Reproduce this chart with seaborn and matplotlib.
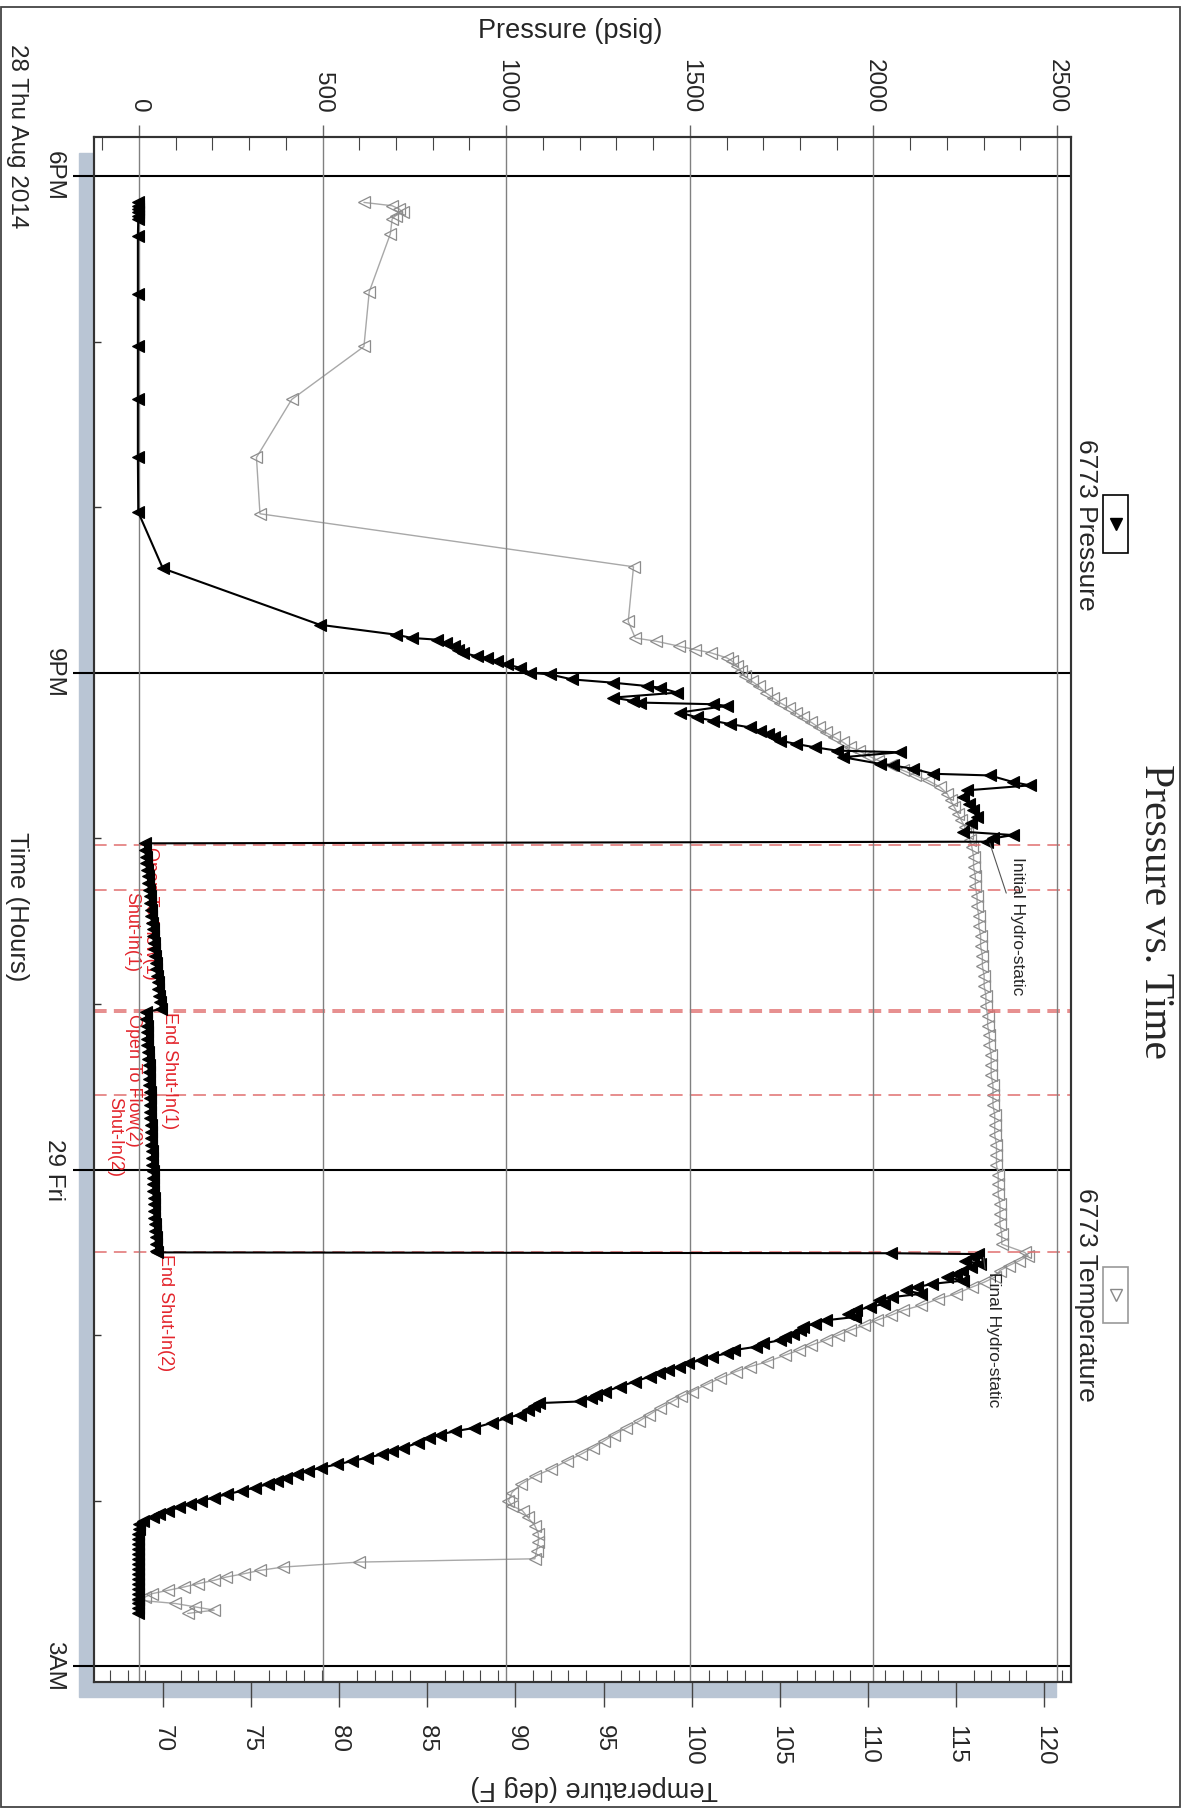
import matplotlib
matplotlib.use("Agg")
import matplotlib.pyplot as plt
from matplotlib.patches import Rectangle
from matplotlib.lines import Line2D
from matplotlib.ticker import MultipleLocator
import seaborn as sns

W, H = 1199, 1812

# ---- data, time in hours after 6PM Thu 28 Aug 2014 ----
# 6773 Pressure (psig)
p_hours_runin = [0.16, 0.18, 0.20, 0.22, 0.24, 0.26, 0.36, 0.71, 1.03, 1.35, 1.70, 2.03,
                 2.37, 2.71, 2.77, 2.79, 2.80, 2.82, 2.84, 2.86, 2.88, 2.90, 2.91, 2.93,
                 2.95, 2.97, 3.00, 3.01, 3.04, 3.06, 3.08, 3.09, 3.12, 3.15, 3.17, 3.18,
                 3.19, 3.20, 3.24, 3.27, 3.29, 3.31, 3.33, 3.35, 3.37, 3.39, 3.41, 3.43,
                 3.45, 3.47, 3.48, 3.51, 3.55, 3.56, 3.58, 3.61, 3.62, 3.66, 3.68, 3.71,
                 3.75, 3.79, 3.83, 3.87, 3.91, 3.96, 3.98, 4.00, 4.02]
p_psig_runin = [-3, -2, -3, -2, -3, -2, -3, -3, -3, -3, -3, -2,
                65, 492, 700, 743, 811, 835, 858, 870, 882, 920, 948, 975,
                1002, 1038, 1065, 1119, 1179, 1291, 1383, 1419, 1465, 1291, 1345, 1364,
                1563, 1601, 1473, 1520, 1563, 1610, 1664, 1690, 1712, 1730, 1746, 1790,
                1840, 1900, 2072, 1917, 2018, 2053, 2108, 2162, 2317, 2380, 2426, 2255,
                2245, 2260, 2271, 2282, 2265, 2245, 2380, 2326, 2310]

p_hours_flow1 = [4.03, 4.07, 4.11, 4.15, 4.19, 4.23, 4.27, 4.31, 4.35, 4.39, 4.43, 4.47, 4.51,
                 4.55, 4.59, 4.63, 4.67, 4.71, 4.75, 4.79, 4.83, 4.87, 4.91, 4.95, 4.99, 5.03]
p_psig_flow1 = [16, 17, 19, 20, 22, 24, 25, 27, 29, 30, 32, 34, 35,
                37, 39, 40, 42, 44, 45, 47, 49, 51, 53, 55, 57, 60]

p_hours_flow2 = [5.05, 5.09, 5.13, 5.17, 5.21, 5.25, 5.29, 5.33, 5.37, 5.41, 5.45, 5.49, 5.53,
                 5.57, 5.61, 5.65, 5.69, 5.73, 5.77, 5.81, 5.85, 5.89, 5.93, 5.97, 6.01, 6.05,
                 6.09, 6.13, 6.17, 6.21, 6.25, 6.29, 6.33, 6.37, 6.41, 6.45, 6.49]
p_psig_flow2 = [19, 20, 21, 22, 22, 23, 24, 25, 26, 26, 27, 28, 29,
                29, 30, 31, 31, 32, 33, 34, 34, 35, 36, 36, 37, 38,
                39, 39, 40, 41, 42, 42, 43, 44, 45, 46, 47]

p_hours_pullout = [6.50, 6.505, 6.51, 6.53, 6.55, 6.57, 6.59, 6.61, 6.63, 6.65,
                   6.67, 6.69, 6.71, 6.73, 6.75, 6.77, 6.79, 6.81, 6.83, 6.85,
                   6.87, 6.89, 6.91, 6.93, 6.95, 6.97, 6.99, 7.01, 7.03, 7.05,
                   7.07, 7.09, 7.11, 7.13, 7.15, 7.17, 7.19, 7.21, 7.23, 7.25,
                   7.28, 7.31, 7.34, 7.36, 7.38, 7.40, 7.41, 7.43, 7.45, 7.48,
                   7.50, 7.53, 7.56, 7.58, 7.60, 7.62, 7.65, 7.68, 7.70, 7.72,
                   7.74, 7.76, 7.78, 7.80, 7.82, 7.84, 7.86, 7.88, 7.90, 7.92,
                   7.94, 7.96, 7.98, 8.00, 8.02, 8.04, 8.06, 8.08, 8.10, 8.12, 8.14]
p_psig_pullout = [48, 2048, 2285, 2270, 2250, 2290, 2266, 2240, 2225, 2200,
                  2245, 2160, 2119, 2090, 2130, 2050, 2015, 2030, 1990, 1953,
                  1930, 1950, 1870, 1840, 1808, 1800, 1780, 1760, 1746, 1700,
                  1680, 1620, 1600, 1560, 1530, 1495, 1470, 1440, 1415, 1391,
                  1350, 1310, 1270, 1245, 1230, 1200, 1090, 1075, 1060, 1037,
                  1000, 960, 912, 860, 819, 790, 760, 720, 690, 662,
                  620, 580, 540, 496, 460, 430, 400, 375, 351, 315,
                  280, 240, 204, 170, 140, 110, 79, 55, 38, 10, 0]

p_hours_surface = [8.17, 8.20, 8.23, 8.26, 8.29, 8.32, 8.35, 8.38, 8.41,
                   8.44, 8.47, 8.50, 8.53, 8.56, 8.59, 8.62, 8.65, 8.68]
p_psig_surface = [-1, -2, -2, -3, -2, -3, -2, -3, -3,
                  -2, -3, -3, -2, -3, -3, -2, -3, -3]

# 6773 Temperature (deg F)
t_hours_runin = [0.16, 0.18, 0.20, 0.22, 0.24, 0.26, 0.35, 0.70, 1.03, 1.35, 1.70, 2.04, 2.36, 2.69]
t_degf_runin = [81.4, 83.0, 83.4, 83.6, 83.2, 83.0, 82.9, 81.7, 81.4, 77.3, 75.3, 75.5, 96.7, 96.4]

t_hours_descent = [2.79, 2.81, 2.84, 2.86, 2.88, 2.91, 2.93, 2.96, 2.99, 3.02,
                   3.05, 3.08, 3.12, 3.15, 3.18, 3.21, 3.24, 3.27, 3.30, 3.33,
                   3.36, 3.39, 3.42, 3.45, 3.47, 3.50, 3.53, 3.56, 3.59, 3.62,
                   3.65, 3.69, 3.73, 3.77, 3.81, 3.85, 3.89, 3.93, 3.97, 4.01]
t_degf_descent = [96.8, 98.0, 99.3, 100.2, 101.1, 102.0, 102.3, 102.6, 102.8, 103.0,
                  103.4, 103.8, 104.2, 104.6, 105.0, 105.5, 105.9, 106.3, 106.8, 107.2,
                  107.6, 108.1, 108.6, 109.0, 109.5, 110.0, 110.6, 111.3, 112.0, 112.7,
                  113.4, 114.1, 114.5, 114.7, 114.9, 115.1, 115.3, 115.5, 115.6, 115.8]

t_hours_bottom = [4.05, 4.11, 4.17, 4.23, 4.29, 4.35, 4.41, 4.47, 4.53, 4.59,
                  4.65, 4.71, 4.77, 4.83, 4.89, 4.95, 5.01, 5.07, 5.13, 5.19,
                  5.25, 5.31, 5.37, 5.43, 5.49, 5.55, 5.61, 5.67, 5.73, 5.79,
                  5.85, 5.91, 5.97, 6.03, 6.09, 6.15, 6.21, 6.27, 6.33, 6.39, 6.45]
t_degf_bottom = [115.9, 116.0, 116.0, 116.1, 116.1, 116.2, 116.2, 116.3, 116.3, 116.4,
                 116.4, 116.5, 116.5, 116.6, 116.6, 116.7, 116.7, 116.8, 116.8, 116.9,
                 116.9, 117.0, 117.0, 117.0, 117.1, 117.1, 117.1, 117.2, 117.2, 117.2,
                 117.3, 117.3, 117.3, 117.4, 117.4, 117.4, 117.5, 117.5, 117.5, 117.6, 117.6]

t_hours_pullout = [6.50, 6.52, 6.55, 6.58, 6.61, 6.65, 6.68, 6.71, 6.75, 6.78,
                   6.82, 6.85, 6.88, 6.91, 6.94, 6.97, 7.00, 7.03, 7.06, 7.09,
                   7.12, 7.16, 7.19, 7.22, 7.26, 7.30, 7.34, 7.37, 7.40, 7.44,
                   7.48, 7.52, 7.56, 7.60, 7.64, 7.68, 7.72, 7.76, 7.81, 7.85,
                   7.90, 7.95, 8.00, 8.03, 8.06, 8.10, 8.15, 8.20, 8.25, 8.30,
                   8.35, 8.37, 8.40, 8.42, 8.44, 8.46, 8.48, 8.50, 8.52, 8.54,
                   8.56, 8.58, 8.60, 8.62, 8.64, 8.66, 8.68]
t_degf_pullout = [118.9, 119.1, 118.6, 118.0, 117.5, 117.2, 116.6, 115.9, 115.0, 114.0,
                  113.0, 112.0, 111.3, 110.5, 109.8, 109.0, 108.3, 107.6, 106.8, 106.1,
                  105.3, 104.3, 103.3, 102.5, 101.6, 100.8, 100.0, 99.4, 98.9, 98.2,
                  97.6, 97.0, 96.3, 95.6, 95.0, 94.4, 93.7, 92.9, 92.0, 91.1,
                  90.3, 89.8, 89.6, 89.8, 90.4, 90.7, 91.1, 91.3, 91.3, 91.2,
                  91.1, 81.1, 76.8, 75.5, 74.6, 73.6, 72.9, 72.0, 71.2, 70.3,
                  69.4, 69.0, 68.6, 70.7, 71.8, 72.9, 71.4]

# test events
event_hours = [4.04, 4.31, 5.035, 5.05, 5.55, 6.50]
event_labels = ["Open To Flow(1)", "Shut-In(1)", "End Shut-In(1)",
                "Open To Flow(2)", "Shut-In(2)", "End Shut-In(2)"]
event_label_psig = [30, -19, 84, -16, -66, 71]

time_ticks = [0, 3, 6, 9]
time_labels = ["6PM", "9PM", "29 Fri", "3AM"]

press_hours = p_hours_runin + p_hours_flow1 + p_hours_flow2 + p_hours_pullout + p_hours_surface
press_psig = p_psig_runin + p_psig_flow1 + p_psig_flow2 + p_psig_pullout + p_psig_surface
temp_hours = t_hours_runin + t_hours_descent + t_hours_bottom + t_hours_pullout
temp_degf = t_degf_runin + t_degf_descent + t_degf_bottom + t_degf_pullout

sns.set_theme(style="ticks")
plt.rcParams["font.family"] = ["Liberation Sans", "DejaVu Sans"]


def fx(px):
    return px / W


def fy(py):
    return 1 - py / H


fig = plt.figure(figsize=(W / 100, H / 100), dpi=100, facecolor="white")
ax = fig.add_axes([fx(94), fy(1682), (1071 - 94) / W, (1682 - 137) / H])
ax.set_facecolor("white")
ax2 = ax.twiny()

# blue-grey drop shadow and outer frame
fig.add_artist(Rectangle((fx(79), fy(1697)), (1056 - 79) / W, (1697 - 153) / H,
                         transform=fig.transFigure, color="#b9c5d4", zorder=-1))
fig.add_artist(Rectangle((fx(1), fy(1807)), 1179 / W, 1800 / H, transform=fig.transFigure,
                         fill=False, ec="#444444", lw=1.3, zorder=5))

# temperature (bottom axis)
sns.lineplot(x=temp_degf, y=temp_hours, ax=ax, sort=False, estimator=None,
             color="#a8a8a8", lw=1, marker="<", ms=9, mfc="none", mec="#8c8c8c", mew=0.9)

# pressure (top axis)
sns.lineplot(x=press_psig, y=press_hours, ax=ax2, sort=False, estimator=None,
             color="black", lw=1.5, marker="<", ms=9, mfc="black", mec="black", mew=0.8)

ax.set_xlim(66.08, 121.53)
ax2.set_xlim(-122.5, 2538)
ax.set_ylim(9.094, -0.235)
ax.set_xlabel("")
ax.set_ylabel("")
ax2.set_xlabel("")

# time axis
ax.set_yticks(time_ticks)
ax.set_yticklabels(time_labels, rotation=-90, va="center", fontsize=17.5)
ax.yaxis.set_minor_locator(MultipleLocator(1))
ax.tick_params(axis="y", which="major", left=True, direction="out", length=15,
               width=1.5, color="black", pad=6)
ax.tick_params(axis="y", which="minor", left=True, direction="in", length=5,
               width=1, color="#333333")
ax.yaxis.grid(True, which="major", color="black", lw=1.5)

# temperature axis ticks
ax.xaxis.set_major_locator(MultipleLocator(5))
ax.xaxis.set_minor_locator(MultipleLocator(1))
ax.tick_params(axis="x", which="major", bottom=True, direction="out", length=18, width=1,
               color="#444444", labelsize=17.5, labelrotation=-90, pad=13)
ax.tick_params(axis="x", which="minor", bottom=True, direction="in", length=8.5,
               width=0.8, color="#444444")

# pressure axis ticks
ax2.xaxis.set_major_locator(MultipleLocator(500))
ax2.xaxis.set_minor_locator(MultipleLocator(100))
ax2.tick_params(axis="x", which="major", top=True, bottom=False, labeltop=True,
                labelbottom=False, direction="out", length=8.6, width=1, color="#666666",
                labelsize=17.5, labelrotation=-90, pad=8.6)
ax2.tick_params(axis="x", which="minor", top=True, bottom=False, direction="in",
                length=9, width=0.8, color="#444444")
ax2.xaxis.grid(True, which="major", color="#808080", lw=1)
ax2.set_axisbelow(True)

for a in (ax, ax2):
    for sp in a.spines.values():
        sp.set_color("#333333")
        sp.set_linewidth(1.5)

# event markers
for t in event_hours:
    ax.axhline(t, color="#e07070", lw=1.3, dashes=(7, 4), alpha=0.85)
for t, lab, p in zip(event_hours, event_labels, event_label_psig):
    ax.text(p, t + 0.012, lab, transform=ax2.transData, rotation=-90, rotation_mode="anchor",
            ha="left", va="center", color="#e3242b", fontsize=13)

ax2.annotate("Initial Hydro-static", xy=(2317, 4.03), xytext=(2391, 4.11),
             rotation=-90, rotation_mode="anchor", ha="left", va="center", fontsize=12.5,
             arrowprops=dict(arrowstyle="-", color="#555555", lw=0.8, shrinkA=0, shrinkB=0))
ax2.annotate("Final Hydro-static", xy=(2300, 6.53), xytext=(2328, 6.62),
             rotation=-90, rotation_mode="anchor", ha="left", va="center", fontsize=12.5,
             arrowprops=dict(arrowstyle="-", color="#555555", lw=0.8, shrinkA=0, shrinkB=0))

# titles and axis labels
fig.text(fx(570), fy(31), "Pressure (psig)", ha="center", va="center", fontsize=19.5)
fig.text(fx(594), fy(1788), "Temperature (deg F)", rotation=180, ha="center", va="center",
         fontsize=19.5)
fig.text(fx(17), fy(907), "Time (Hours)", rotation=-90, ha="center", va="center", fontsize=18.5)
fig.text(fx(17), fy(136), "28 Thu Aug 2014", rotation=-90, ha="center", va="center",
         fontsize=17.5)
fig.text(fx(1155), fy(912), "Pressure vs. Time", rotation=-90, ha="center", va="center",
         fontsize=30, family=["Liberation Serif", "DejaVu Serif"])

# legend
fig.text(fx(1086), fy(525), "6773 Pressure", rotation=-90, ha="center", va="center", fontsize=19)
fig.text(fx(1086), fy(1295), "6773 Temperature", rotation=-90, ha="center", va="center",
         fontsize=19)
fig.add_artist(Rectangle((fx(1103), fy(553)), 25 / W, 58 / H, transform=fig.transFigure,
                         fill=False, ec="black", lw=1.2))
fig.add_artist(Rectangle((fx(1103), fy(1323)), 25 / W, 56 / H, transform=fig.transFigure,
                         fill=False, ec="#999999", lw=1.2))
fig.add_artist(Line2D([fx(1116)], [fy(524)], marker="v", ms=9, color="black",
                      transform=fig.transFigure))
fig.add_artist(Line2D([fx(1116)], [fy(1295)], marker="v", ms=9, mfc="none", mec="#888888",
                      mew=1, transform=fig.transFigure))

fig.savefig("out.png", dpi=100, facecolor="white")
